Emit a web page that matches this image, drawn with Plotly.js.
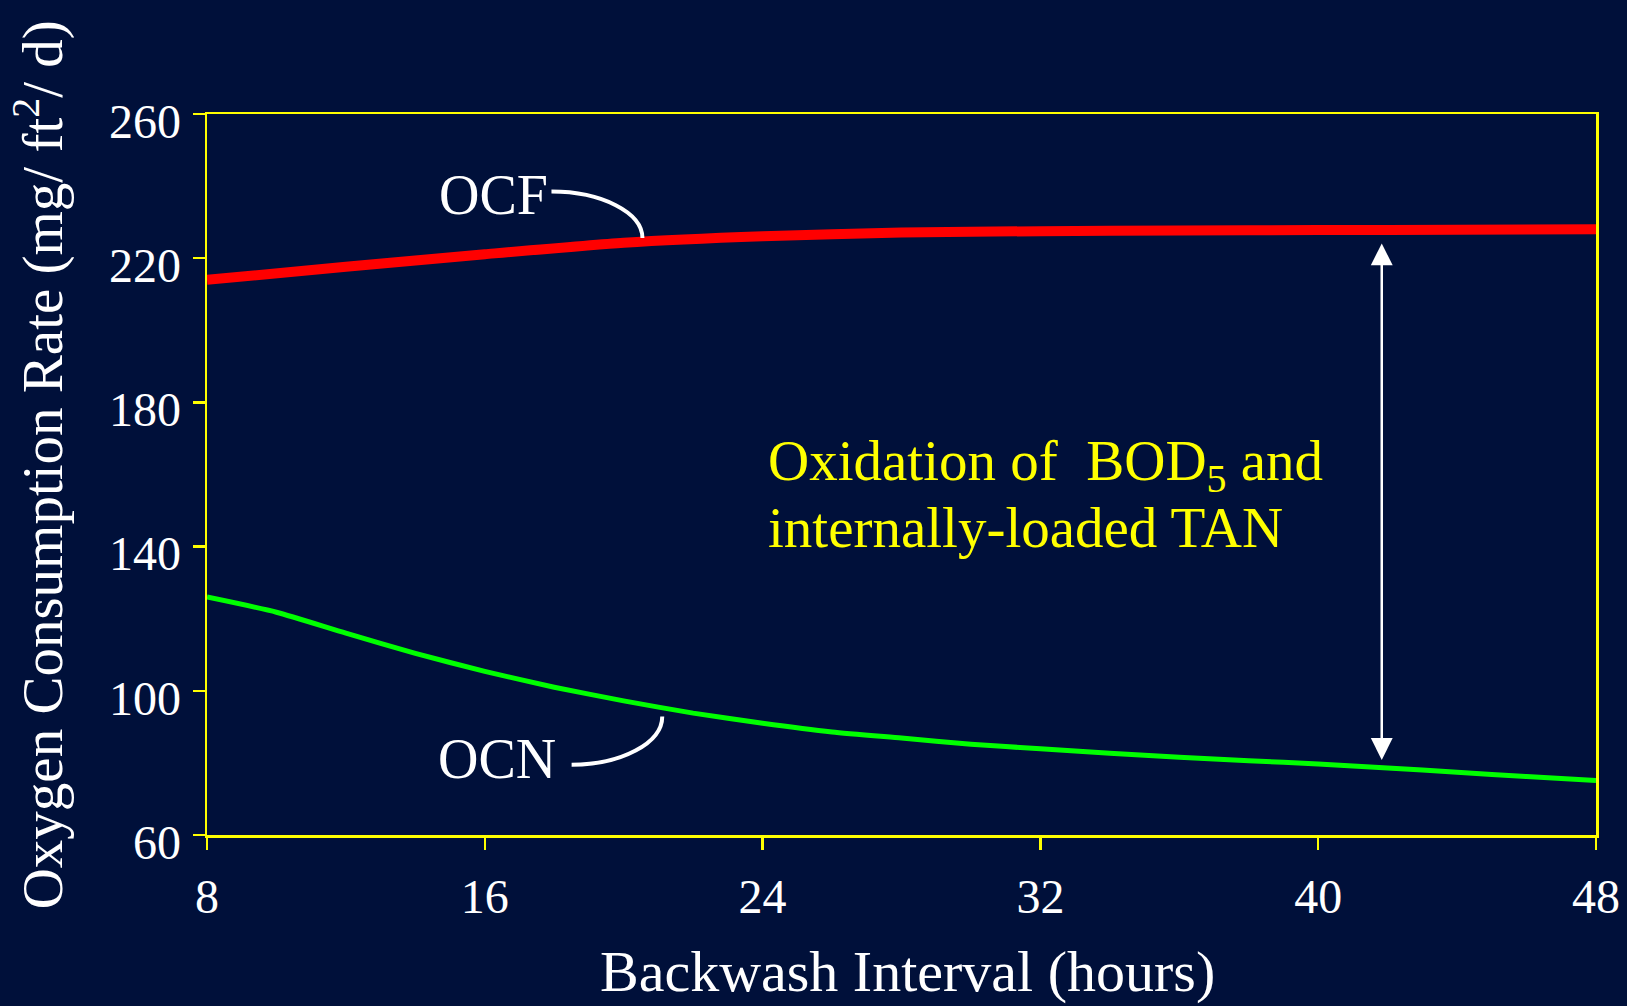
<!DOCTYPE html>
<html>
<head>
<meta charset="utf-8">
<script src="https://cdn.plot.ly/plotly-3.0.1.min.js"></script>
<style>
  body { margin: 0; background: #00103a; }
  #chart { width: 1627px; height: 1006px; }
</style>
</head>
<body>
<div id="chart"></div>
<script>
// OCF / OCN oxygen consumption vs backwash interval

const ocfHours = [8, 12, 16, 20, 24, 28, 32, 36, 40, 44, 48];
const ocfRate = [214.0, 217.6, 221.1, 224.3, 226.1, 227.1, 227.5, 227.7, 227.8, 227.9, 228.0];

const ocnHours = [8, 10, 12, 14, 16, 18, 20, 22, 24, 26, 28, 30, 32, 34, 36, 38, 40, 42, 44, 46, 48];
const ocnRate = [126.0, 121.8, 116.0, 110.4, 105.4, 101.0, 97.2, 93.8, 91.0, 88.6, 86.9,
  85.2, 83.9, 82.7, 81.6, 80.6, 79.7, 78.6, 77.4, 76.2, 75.1];

const xTicks = [8, 16, 24, 32, 40, 48];
const yTicks = [60, 100, 140, 180, 220, 260];

const BG = "#00103a";
const YELLOW = "#ffff00";
const FONT = "Liberation Serif, Times New Roman, serif";

// callout curves (data units): start near label, end on the line
function callout(x0, y0, x1, y1) {
  const k = 0.55;
  const c1x = x0 + k * (x1 - x0);
  const c2y = y1 + k * (y0 - y1);
  return `M${x0},${y0} C${c1x},${y0} ${x1},${c2y} ${x1},${y1}`;
}

const traces = [
  {
    x: ocfHours,
    y: ocfRate,
    mode: "lines",
    name: "OCF",
    line: { color: "#ff0000", width: 10, shape: "spline", smoothing: 0.6 },
    hoverinfo: "skip",
  },
  {
    x: ocnHours,
    y: ocnRate,
    mode: "lines",
    name: "OCN",
    line: { color: "#00ff00", width: 5, shape: "spline", smoothing: 0.6 },
    hoverinfo: "skip",
  },
];

const axisCommon = {
  showgrid: false,
  zeroline: false,
  showline: true,
  linecolor: YELLOW,
  linewidth: 2.5,
  mirror: true,
  ticks: "outside",
  ticklen: 12,
  tickwidth: 2.5,
  tickcolor: YELLOW,
  tickfont: { family: FONT, size: 48, color: "#ffffff" },
};

const layout = {
  width: 1627,
  height: 1006,
  paper_bgcolor: BG,
  plot_bgcolor: BG,
  showlegend: false,
  margin: { l: 207, r: 31, t: 114, b: 171 },
  xaxis: Object.assign({}, axisCommon, {
    range: [8, 48],
    tickvals: xTicks,
    ticklabelstandoff: 6,
  }),
  yaxis: Object.assign({}, axisCommon, {
    range: [60, 260],
    tickvals: yTicks,
    ticklabelstandoff: 2,
    ticklabelshift: 7,
  }),
  shapes: [
    {
      type: "path",
      xref: "x",
      yref: "y",
      path: callout(17.92, 238.5, 20.54, 225.6),
      line: { color: "#ffffff", width: 4 },
    },
    {
      type: "path",
      xref: "x",
      yref: "y",
      path: callout(18.5, 79.5, 21.11, 92.9),
      line: { color: "#ffffff", width: 4 },
    },
  ],
  annotations: [
    {
      xref: "paper", yref: "paper",
      x: -0.121, y: 0.514,
      text: "Oxygen Consumption Rate (mg/ ft<sup>2</sup>/ d)",
      textangle: -90,
      showarrow: false,
      xanchor: "center", yanchor: "middle",
      font: { family: FONT, size: 57, color: "#ffffff" },
    },
    {
      xref: "paper", yref: "paper",
      x: 0.5046, y: -0.19,
      text: "Backwash Interval (hours)",
      showarrow: false,
      xanchor: "center", yanchor: "middle",
      font: { family: FONT, size: 58, color: "#ffffff" },
    },
    {
      x: 16.24, y: 237.5,
      text: "OCF",
      showarrow: false,
      xanchor: "center", yanchor: "middle",
      font: { family: FONT, size: 56, color: "#ffffff" },
    },
    {
      x: 16.36, y: 81.0,
      text: "OCN",
      showarrow: false,
      xanchor: "center", yanchor: "middle",
      font: { family: FONT, size: 56, color: "#ffffff" },
    },
    {
      x: 24.1, y: 162.6,
      text: "Oxidation of \u00a0BOD<sub>5</sub> and",
      showarrow: false,
      xanchor: "left", yanchor: "middle",
      font: { family: FONT, size: 57, color: YELLOW },
    },
    {
      x: 24.1, y: 145.3,
      text: "internally-loaded TAN",
      showarrow: false,
      xanchor: "left", yanchor: "middle",
      font: { family: FONT, size: 57, color: YELLOW },
    },
    {
      // double-headed arrow between the two curves
      x: 41.83, y: 224.1,
      ax: 41.83, ay: 80.4,
      axref: "x", ayref: "y",
      text: "",
      showarrow: true,
      arrowside: "end+start",
      arrowhead: 2,
      startarrowhead: 2,
      arrowsize: 1.75,
      startarrowsize: 1.75,
      arrowwidth: 2.5,
      arrowcolor: "#ffffff",
      standoff: 0,
      startstandoff: 0,
    },
  ],
};

Plotly.newPlot("chart", traces, layout, { staticPlot: true });
</script>
</body>
</html>
